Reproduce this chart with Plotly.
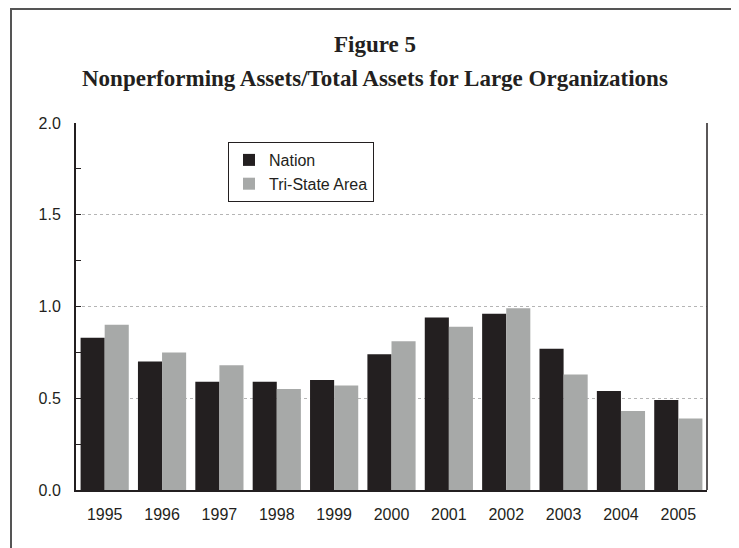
import plotly.graph_objects as go

years = ["1995", "1996", "1997", "1998", "1999", "2000", "2001", "2002", "2003", "2004", "2005"]
nation = [0.83, 0.70, 0.59, 0.59, 0.60, 0.74, 0.94, 0.96, 0.77, 0.54, 0.49]
tristate = [0.90, 0.75, 0.68, 0.55, 0.57, 0.81, 0.89, 0.99, 0.63, 0.43, 0.39]

OFF = 8  # page body margin
W, H = 739 - OFF, 548 - OFF
L, R, T, B = 76 - OFF, 707 - OFF, 123 - OFF, 490 - OFF
pw, ph = R - L, B - T

def px(x):
    return (x - OFF - L) / pw

def py(y):
    return (B - (y - OFF)) / ph

fig = go.Figure()
fig.add_trace(go.Bar(x=years, y=nation, name="Nation",
                     marker=dict(color="#231f20", line=dict(width=0))))
fig.add_trace(go.Bar(x=years, y=tristate, name="Tri-State Area",
                     marker=dict(color="#a7a9a8", line=dict(width=0))))

fig.update_layout(
    width=W, height=H,
    margin=dict(l=L, r=W - R, t=T, b=H - B),
    paper_bgcolor="white", plot_bgcolor="white",
    barmode="group", bargap=0.16, bargroupgap=0.0,
    font=dict(family="Liberation Sans, Arial, sans-serif", size=16, color="#231f20"),
    showlegend=True,
    legend=dict(x=px(228), y=py(142), xanchor="left", yanchor="top",
                bordercolor="#231f20", borderwidth=1, bgcolor="white",
                font=dict(size=16, color="#231f20"),
                itemwidth=30, tracegroupgap=0),
    xaxis=dict(showline=True, linecolor="#231f20", linewidth=2, ticks="",
               showgrid=False, ticklabelstandoff=9,
               tickfont=dict(size=16, color="#231f20")),
    yaxis=dict(range=[0, 2.0], dtick=0.5, tickformat=".1f",
               showline=True, linecolor="#231f20", linewidth=2,
               ticks="inside", ticklen=5, tickcolor="#231f20", tickwidth=1,
               minor=dict(dtick=0.25, ticks="inside", ticklen=5,
                          tickcolor="#231f20", showgrid=False),
               showgrid=True, gridcolor="#b5b5b5", griddash="dot", gridwidth=1,
               zeroline=False, ticklabelstandoff=10,
               tickfont=dict(size=16, color="#231f20")),
    shapes=[
        dict(type="line", xref="paper", yref="paper", x0=1, x1=1, y0=0, y1=1,
             line=dict(color="#231f20", width=1.5)),
        dict(type="rect", xref="paper", yref="paper",
             x0=px(11), x1=px(737), y0=py(575), y1=py(9),
             line=dict(color="#555555", width=2)),
    ],
    annotations=[
        dict(text="<b>Figure 5</b>", xref="paper", yref="paper",
             x=px(375), y=py(45), showarrow=False, xanchor="center", yanchor="middle",
             font=dict(family="Liberation Serif, Times New Roman, serif", size=23, color="#231f20")),
        dict(text="<b>Nonperforming Assets/Total Assets for Large Organizations</b>",
             xref="paper", yref="paper",
             x=px(375), y=py(78), showarrow=False, xanchor="center", yanchor="middle",
             font=dict(family="Liberation Serif, Times New Roman, serif", size=23, color="#231f20")),
    ],
)

fig.write_html("out.html")
